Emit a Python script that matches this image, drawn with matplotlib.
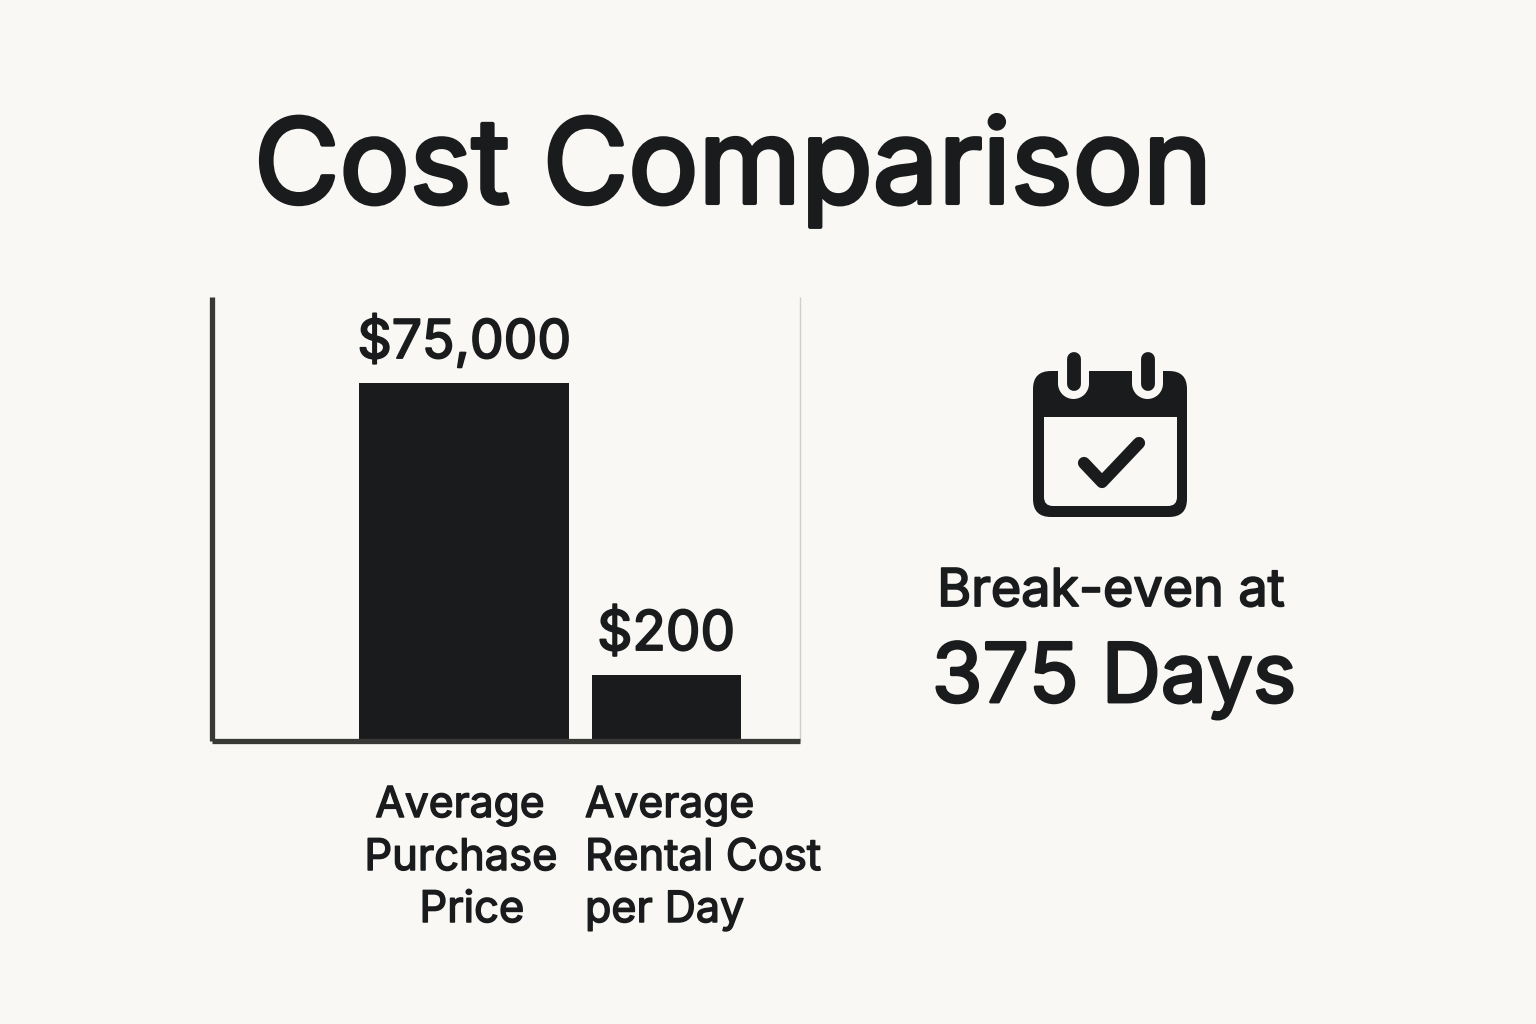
import matplotlib
matplotlib.use("Agg")
import matplotlib.pyplot as plt
import matplotlib.patheffects as pe
from matplotlib.patches import FancyBboxPatch, Rectangle, Circle
from matplotlib.lines import Line2D

plt.rcParams['font.family'] = ['Inter', 'DejaVu Sans']

categories = ['Average Purchase Price', 'Average Rental Cost per Day']
costs = [75000, 200]
cost_labels = ['$75,000', '$200']
title = 'Cost Comparison'
breakeven_days = 375

BG = '#f9f8f4'
INK = '#191b1d'
W, H = 1536, 1024

fig = plt.figure(figsize=(W / 100, H / 100), dpi=100, facecolor=BG)

# bar panel, log scale keeps both costs readable
ax = fig.add_axes([212 / W, 1 - 741 / H, (800 - 212) / W, (741 - 297) / H])
ax.set_facecolor(BG)
ax.set_yscale('log')
ax.set_ylim(52.4, 429600)
ax.set_xlim(212, 800)
bar_lefts = [359, 592]
bar_widths = [210, 149]
ax.bar(bar_lefts, costs, width=bar_widths, align='edge', color=INK, bottom=1)
ax.set_xticks([])
ax.set_yticks([])
ax.minorticks_off()
ax.tick_params(which='both', left=False, bottom=False, labelleft=False)
ax.spines['top'].set_visible(False)
for side in ['left', 'bottom']:
    ax.spines[side].set_linewidth(3.8)
    ax.spines[side].set_color('#383836')
    ax.spines[side].set_capstyle('butt')
ax.spines['right'].set_linewidth(1.0)
ax.spines['right'].set_color('#cfcfca')
ax.spines['right'].set_capstyle('butt')

# overlay in pixel coordinates for text and the icon
ov = fig.add_axes([0, 0, 1, 1], zorder=5)
ov.set_xlim(0, W)
ov.set_ylim(H, 0)
ov.axis('off')


def put(x, y, s, size, ha='center'):
    # a thin outline gives the regular face a medium weight
    t = ov.text(x, y, s, fontsize=size, ha=ha, va='baseline', color=INK)
    t.set_path_effects([pe.withStroke(linewidth=size * 0.035, foreground=INK)])


put(254, 203, title, 84.3, ha='left')
put(464, 358, cost_labels[0], 38.5)
put(666, 650, cost_labels[1], 39.5)

put(460, 817, 'Average', 30.7)
put(461, 870, 'Purchase', 31.3)
put(472, 922, 'Price', 31.3)
put(585, 817, 'Average', 30.7, ha='left')
put(585, 870, 'Rental Cost', 31.4, ha='left')
put(585, 922, 'per Day', 31, ha='left')

put(1111, 606, 'Break-even at', 37.5)
put(1114, 702, f'{breakeven_days} Days', 59)

# calendar icon
ov.add_patch(FancyBboxPatch((1033 + 18, 371 + 18), 154 - 36, 146 - 36,
                            boxstyle='round,pad=18', fc=INK, ec='none'))
ov.add_patch(FancyBboxPatch((1044 + 9, 417 + 9), 133 - 18, 89 - 18,
                            boxstyle='round,pad=9', fc=BG, ec='none'))
ov.add_patch(Rectangle((1044, 417), 133, 40, fc=BG, ec='none'))
for cx in [1073.5, 1147.5]:
    ov.add_patch(Rectangle((cx - 15.5, 365), 31, 18, fc=BG, ec='none'))
    ov.add_patch(Circle((cx, 383.5), 15.5, fc=BG, ec='none'))
    ov.add_line(Line2D([cx, cx], [359, 384], color=INK, lw=10, solid_capstyle='round'))
ov.add_line(Line2D([1084, 1102, 1139], [463, 482, 443], color=INK, lw=8.8,
                   solid_capstyle='round', solid_joinstyle='round'))

fig.savefig('out.png', dpi=100, facecolor=BG)
